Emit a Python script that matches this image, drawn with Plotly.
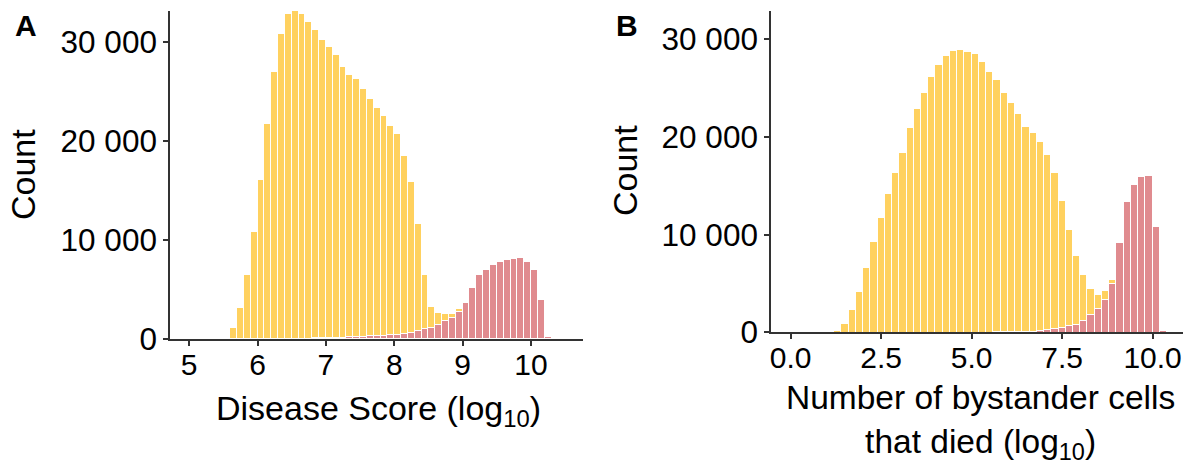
import plotly.graph_objects as go

# ---------------- Panel A: Disease score (log10), binwidth 0.1 ----------------
a_bins = [5.55, 5.65, 5.75, 5.85, 5.95, 6.05, 6.15, 6.25, 6.35, 6.45, 6.55, 6.65,
          6.75, 6.85, 6.95, 7.05, 7.15, 7.25, 7.35, 7.45, 7.55, 7.65, 7.75, 7.85,
          7.95, 8.05, 8.15, 8.25, 8.35, 8.45, 8.55, 8.65, 8.75, 8.85, 8.95, 9.05,
          9.15, 9.25, 9.35, 9.45, 9.55, 9.65, 9.75, 9.85, 9.95, 10.05, 10.15, 10.25]
a_yellow = [150, 1110, 3100, 6430, 10770, 16060, 21750, 26935, 30760, 32785, 33075, 32765,
            31975, 31150, 30120, 29360, 28570, 27300, 26530, 26030, 24990, 23950, 23070, 22220,
            21080, 20220, 17970, 15250, 10840, 5470, 2170, 1170, 720, 450, 240, 0,
            0, 0, 0, 0, 0, 0, 0, 0, 0, 0, 0, 0]
a_red = [0, 0, 0, 0, 0, 0, 0, 5, 10, 15, 25, 35,
         45, 60, 80, 100, 120, 140, 170, 200, 230, 260, 300, 340,
         400, 450, 520, 640, 810, 980, 1080, 1410, 1820, 2090, 2760, 3640,
         5130, 6450, 6990, 7440, 7810, 7950, 8130, 8230, 7810, 6950, 3990, 220]

# ---------------- Panel B: bystander cells died (log10), binwidth 0.2 ----------------
b_bins = [1.3, 1.5, 1.7, 1.9, 2.1, 2.3, 2.5, 2.7, 2.9, 3.1, 3.3, 3.5, 3.7, 3.9, 4.1, 4.3,
          4.5, 4.7, 4.9, 5.1, 5.3, 5.5, 5.7, 5.9, 6.1, 6.3, 6.5, 6.7, 6.9, 7.1, 7.3, 7.5,
          7.7, 7.9, 8.1, 8.3, 8.5, 8.7, 8.9, 9.1, 9.3, 9.5, 9.7, 9.9, 10.1, 10.3]
b_yellow = [170, 920, 2310, 4150, 6570, 9290, 11700, 14150, 16360, 18370, 20990, 22860,
            24520, 26160, 27420, 28270, 28840, 28880, 28710, 28570, 27685, 26690, 25835, 24540,
            23470, 22310, 20960, 20340, 19350, 17860, 15890, 12990, 9860, 7000, 4690, 2730,
            1440, 880, 410, 0, 0, 0, 0, 0, 0, 0]
b_red = [0, 0, 0, 0, 0, 0, 0, 0, 0, 0, 0, 0,
         0, 0, 0, 0, 0, 0, 0, 0, 5, 10, 15, 20,
         30, 40, 60, 100, 170, 300, 400, 510, 680, 820, 1160, 1770,
         2460, 3380, 5020, 9200, 13320, 15160, 15930, 16030, 10830, 170]

y_tickvals = [0, 10000, 20000, 30000]
y_ticktext = ["0", "10 000", "20 000", "30 000"]
a_xticks = [5, 6, 7, 8, 9, 10]
b_xticks = [0.0, 2.5, 5.0, 7.5, 10.0]
b_xticktext = ["0.0", "2.5", "5.0", "7.5", "10.0"]

YELLOW = "#FFD15F"
RED = "#E08B8F"
AXC = "#333333"
FONT = "Liberation Sans, Arial, sans-serif"

W, H = 1186, 467

fig = go.Figure()
line = dict(color="white", width=1)
fig.add_bar(x=a_bins, y=a_red, marker=dict(color=RED, line=line), xaxis="x", yaxis="y", width=0.1)
fig.add_bar(x=a_bins, y=a_yellow, marker=dict(color=YELLOW, line=line), xaxis="x", yaxis="y", width=0.1)
fig.add_bar(x=b_bins, y=b_red, marker=dict(color=RED, line=line), xaxis="x2", yaxis="y2", width=0.2)
fig.add_bar(x=b_bins, y=b_yellow, marker=dict(color=YELLOW, line=line), xaxis="x2", yaxis="y2", width=0.2)

common = dict(showline=True, linecolor=AXC, linewidth=1.5, ticks="outside",
              ticklen=5, tickwidth=1.5, tickcolor=AXC, showgrid=False, zeroline=False,
              automargin=False)
xcommon = dict(common, tickfont=dict(size=30, color="black", family=FONT), ticklabelstandoff=-7)
ycommon = dict(common, tickfont=dict(size=31.5, color="black", family=FONT))

fig.update_layout(
    width=W, height=H, margin=dict(l=0, r=0, t=0, b=0),
    paper_bgcolor="white", plot_bgcolor="white", showlegend=False,
    barmode="stack", bargap=0,
    font=dict(family=FONT, color="black"),
    xaxis=dict(domain=[170 / W, 583 / W], range=[4.72, 10.76], tickvals=a_xticks,
               anchor="y", **xcommon),
    yaxis=dict(domain=[1 - 339 / H, 1 - 11 / H], range=[0, 33130], tickvals=y_tickvals,
               ticktext=y_ticktext, anchor="x", **ycommon),
    xaxis2=dict(domain=[771 / W, 1183 / W], range=[-0.544, 10.84], tickvals=b_xticks,
                ticktext=b_xticktext, anchor="y2", **xcommon),
    yaxis2=dict(domain=[1 - 332.3 / H, 1 - 10.7 / H], range=[0, 32920], tickvals=y_tickvals,
                ticktext=y_ticktext, anchor="x2", **ycommon),
)

def ann(text, x, y, size, **kw):
    fig.add_annotation(text=text, x=x / W, y=1 - y / H, xref="paper", yref="paper",
                       showarrow=False, font=dict(size=size, color="black", family=FONT),
                       xanchor="center", yanchor="middle", **kw)

ann("<b>A</b>", 26, 26, 30)
ann("<b>B</b>", 627, 26, 30)
ann("Count", 23, 175, 34, textangle=-90)
ann("Count", 625, 171, 34, textangle=-90)
ann("Disease Score (log<sub>10</sub>)", 378, 410, 34)
ann("Number of bystander cells<br>that died (log<sub>10</sub>)", 980, 422, 33.5)

fig.write_html("out.html")
